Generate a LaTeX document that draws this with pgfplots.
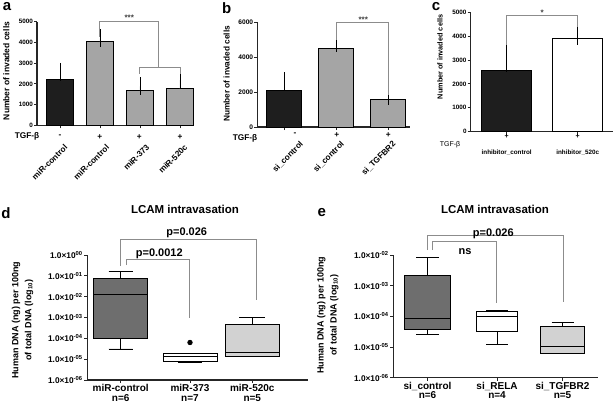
\documentclass[border=0pt]{standalone}
\usepackage{pgfplots}
\pgfplotsset{compat=1.18}
\usepgfplotslibrary{statistics}
\usepackage{fontspec}
\setmainfont{Liberation Sans}
\definecolor{darkbar}{HTML}{1E1E1E}
\definecolor{graybar}{HTML}{A5A5A5}
\definecolor{boxdark}{HTML}{6E6E6E}
\definecolor{boxlight}{HTML}{D2D2D2}
\definecolor{brk}{HTML}{8C8C8C}
\newcommand{\fs}[1]{\fontsize{#1}{#1}\selectfont\bfseries}
\begin{document}
\begin{tikzpicture}
\path[use as bounding box, fill=white] (0pt,0pt) rectangle (616pt,408pt);
\pgfplotsset{
  baseax/.style={
    scale only axis, anchor=south west,
    axis x line=bottom, axis y line=left,
    axis line style={-, line width=1.1pt, black!85},
    tick align=outside, major tick length=3pt,
    tick style={line width=0.9pt, black!85},
    /pgf/number format/assume math mode=true,
    /pgf/number format/1000 sep={},
    scaled y ticks=false,
    clip=false,
  },
  barplot/.style={ybar, bar shift=0pt, draw=black, line width=0.8pt,
    error bars/y dir=plus, error bars/y explicit,
    error bars/error mark=-,
    error bars/error bar style={line width=0.8pt, draw=black},
    error bars/error mark options={line width=0.8pt, draw=black, mark size=#1}},
  bx/.style={boxplot/draw direction=y,
    boxplot/every median/.style={line width=1pt, draw=black},
    boxplot/every whisker/.style={line width=0.9pt, draw=black},
    boxplot/every box/.style={line width=0.9pt, draw=black},
    draw=black, line width=0.9pt},
}
% ---------------- panel a
\begin{axis}[baseax, at={(37pt,282.7pt)}, width=157pt, height=103.6pt,
  xmin=-0.575, xmax=3.35, ymin=0, ymax=5000,
  ytick={0,1000,2000,3000,4000,5000},
  yticklabel style={font=\fs{6.3}, inner sep=1pt},
  xtick={0,1,2,3}, xticklabels={}]
\addplot[barplot=9pt, bar width=26.7pt, fill=darkbar] coordinates {(0,2200) +- (0,380)};
\addplot[barplot=9pt, bar width=26.7pt, fill=graybar] coordinates {(1,4040) +- (0,150)};
\addplot[barplot=9pt, bar width=26.7pt, fill=graybar] coordinates {(2,1680) +- (0,200)};
\addplot[barplot=9pt, bar width=26.7pt, fill=graybar] coordinates {(3,1760) +- (0,420)};
\end{axis}
% ---------------- panel b
\begin{axis}[baseax, at={(257.3pt,281pt)}, width=152.7pt, height=104.7pt,
  xmin=-0.512, xmax=2.416, ymin=0, ymax=6000,
  ytick={0,2000,4000,6000},
  yticklabel style={font=\fs{6.6}, inner sep=1pt},
  xtick={0,1,2}, xticklabels={}]
\addplot[barplot=9.5pt, bar width=35pt, fill=darkbar] coordinates {(0,2120) +- (0,480)};
\addplot[barplot=9.5pt, bar width=35pt, fill=graybar] coordinates {(1,4510) +- (0,320)};
\addplot[barplot=9.5pt, bar width=35pt, fill=graybar] coordinates {(2,1590) +- (0,210)};
\end{axis}
% ---------------- panel c
\begin{axis}[baseax, at={(470.7pt,276.3pt)}, width=142.3pt, height=119.4pt,
  xmin=-0.507, xmax=1.497, ymin=0, ymax=5000,
  ytick={0,1000,2000,3000,4000,5000},
  yticklabel style={font=\fs{6.3}, inner sep=1pt},
  xtick={0,1},
  xticklabels={inhibitor\_control,inhibitor\_520c},
  xticklabel style={font=\fs{6.3}, inner sep=0pt},
  xticklabel shift=15pt]
\addplot[barplot=14pt, bar width=50pt, fill=darkbar] coordinates {(0,2560) +- (0,540)};
\addplot[barplot=14pt, bar width=50pt, fill=white] coordinates {(1,3890) +- (0,320)};
\end{axis}
% ---------------- panel d (values are log10 of human DNA)
\begin{axis}[baseax, at={(87.3pt,28pt)}, width=220.7pt, height=125pt,
  xmin=-0.506, xmax=2.838, ymin=-6, ymax=0,
  ytick={-6,-5,-4,-3,-2,-1,0},
  yticklabels={1.0×10\textsuperscript{-06},1.0×10\textsuperscript{-05},1.0×10\textsuperscript{-04},1.0×10\textsuperscript{-03},1.0×10\textsuperscript{-02},1.0×10\textsuperscript{-01},1.0×10\textsuperscript{00}},
  yticklabel style={font=\fs{8.3}, inner sep=1.5pt},
  xtick={0,1.05,1.994},
  xticklabels={{miR-control\\n=6},{miR-373\\n=7},{miR-520c\\n=5}},
  xticklabel style={font=\fontsize{10}{10.5}\selectfont\bfseries, align=center, inner sep=1pt}]
\addplot[bx, fill=boxdark, boxplot prepared={draw position=0, lower whisker=-4.51, lower quartile=-4.02, median=-1.89, upper quartile=-1.11, upper whisker=-0.80, box extend=0.818, whisker extend=0.364}] coordinates {};
\addplot[bx, fill=white, mark=*, mark size=2.2pt, mark options={fill=black, draw=black}, boxplot prepared={draw position=1.05, lower whisker=-5.14, lower quartile=-5.11, median=-4.87, upper quartile=-4.73, upper whisker=-4.73, box extend=0.818, whisker extend=0.364}] table[row sep=\\, y index=0] {v\\ -4.20\\};
\addplot[bx, fill=boxlight, boxplot prepared={draw position=1.994, lower whisker=-4.87, lower quartile=-4.85, median=-4.68, upper quartile=-3.32, upper whisker=-3.02, box extend=0.818, whisker extend=0.394}] coordinates {};
\end{axis}
% ---------------- panel e (values are log10 of human DNA)
\begin{axis}[baseax, at={(393.3pt,30.3pt)}, width=204.7pt, height=122.7pt,
  xmin=-0.507, xmax=2.526, ymin=-6, ymax=-2,
  ytick={-6,-5,-4,-3,-2},
  yticklabels={1.0×10\textsuperscript{-06},1.0×10\textsuperscript{-05},1.0×10\textsuperscript{-04},1.0×10\textsuperscript{-03},1.0×10\textsuperscript{-02}},
  yticklabel style={font=\fs{8.3}, inner sep=1.5pt},
  xtick={0,1.03,2},
  xticklabels={{si\_control\\n=6},{si\_RELA\\n=4},{si\_TGFBR2\\n=5}},
  xticklabel style={font=\fontsize{10}{9.5}\selectfont\bfseries, align=center, inner sep=1pt}]
\addplot[bx, fill=boxdark, boxplot prepared={draw position=0, lower whisker=-4.58, lower quartile=-4.43, median=-4.06, upper quartile=-2.68, upper whisker=-2.07, box extend=0.681, whisker extend=0.341}] coordinates {};
\addplot[bx, fill=white, boxplot prepared={draw position=1.03, lower whisker=-4.92, lower quartile=-4.49, median=-4.00, upper quartile=-3.85, upper whisker=-3.81, box extend=0.607, whisker extend=0.326}] coordinates {};
\addplot[bx, fill=boxlight, boxplot prepared={draw position=2, lower whisker=-5.21, lower quartile=-5.20, median=-4.99, upper quartile=-4.33, upper whisker=-4.20, box extend=0.652, whisker extend=0.326}] coordinates {};
\end{axis}
% ---------------- annotations (in pixel units)
\begin{scope}[x=1pt, y=1pt]
\begin{scope}[brk, line width=0.9pt]
\draw (99.3,370.7) -- (99.3,386.3) -- (158.3,386.3) -- (158.3,340.3);
\draw (139.3,334) -- (139.3,340.3) -- (180,340.3) -- (180,334);
\draw (336.7,368) -- (336.7,385.7) -- (388.3,385.7) -- (388.3,313);
\draw (506.7,363) -- (506.7,392.3) -- (577.7,392.3) -- (577.7,381.3);
\draw (120.7,142) -- (120.7,168.7) -- (256.7,168.7) -- (256.7,108);
\draw (126,143) -- (126,149) -- (189.3,149) -- (189.3,89.7);
\draw (427.7,158) -- (427.7,173) -- (563.3,173) -- (563.3,106.3);
\draw (432.7,158) -- (432.7,166.3) -- (496.7,166.3) -- (496.7,105.3);
\end{scope}
\node[font=\fs{8}, text=black!75] at (129.3,390.5) {***};
\node[font=\fs{8}, text=black!75] at (363.3,388.5) {***};
\node[font=\fs{8}, text=black!75] at (542.3,395.5) {*};
\node[font=\fs{11}] at (186.7,175.7) {p=0.026};
\node[font=\fs{11}] at (159.3,154.7) {p=0.0012};
\node[font=\fs{11}] at (493.3,174.7) {p=0.026};
\node[font=\fs{11}] at (465,156.3) {ns};
\node[font=\fs{11.5}] at (185,199) {LCAM intravasation};
\node[font=\fs{11.5}] at (495,199) {LCAM intravasation};
% rotated category labels of a and b
\begin{scope}[every node/.style={rotate=45, anchor=east, font=\fs{8.2}, inner sep=0pt}]
\node at (66,262) {miR-control};
\node at (107.8,262) {miR-control};
\node at (147.8,262) {miR-373};
\node at (186,262) {miR-520c};
\node at (302,265.2) {si\_control};
\node at (342.8,265.2) {si\_control};
\node at (394.5,265.2) {si\_TGFBR2};
\end{scope}
% y labels
\node[rotate=90, font=\fs{8.5}] at (6.3,337) {Number of invaded cells};
\node[rotate=90, font=\fs{8.3}] at (226.7,334) {Number of invaded cells};
\node[rotate=90, font=\fs{7.3}] at (440,351) {Number of invaded cells};
\node[rotate=90, align=center, font=\fontsize{9}{13}\selectfont\bfseries] at (22.5,88) {Human DNA (ng) per 100ng\\of total DNA (log\textsubscript{10})};
\node[rotate=90, align=center, font=\fontsize{9}{13}\selectfont\bfseries] at (327.7,93) {Human DNA (ng) per 100ng\\of total DNA (log\textsubscript{10})};
% TGF-beta rows
\node[font=\fs{8.3}] at (27,271.3) {TGF-β};
\node[font=\fs{8.3}] at (60,271.8) {-};
\node[font=\fs{8.3}] at (99.7,271.3) {+};
\node[font=\fs{8.3}] at (139.3,271.3) {+};
\node[font=\fs{8.3}] at (180,271.3) {+};
\node[font=\fs{8.3}] at (245,270) {TGF-β};
\node[font=\fs{8.3}] at (295,273.5) {-};
\node[font=\fs{8.3}] at (336.7,273) {+};
\node[font=\fs{8.3}] at (388.3,273) {+};
\node[font=\fontsize{7}{7}\selectfont] at (450,263) {TGF-β};
\node[font=\fs{7}] at (506.7,271.3) {+};
\node[font=\fs{7}] at (577.7,271.3) {+};
% panel letters
\node[font=\fs{15}] at (7,401) {a};
\node[font=\fs{15}] at (226.7,400) {b};
\node[font=\fs{15}] at (436,401) {c};
\node[font=\fs{15}] at (6,195) {d};
\node[font=\fs{15}] at (321.7,195) {e};
\end{scope}
\end{tikzpicture}
\end{document}
